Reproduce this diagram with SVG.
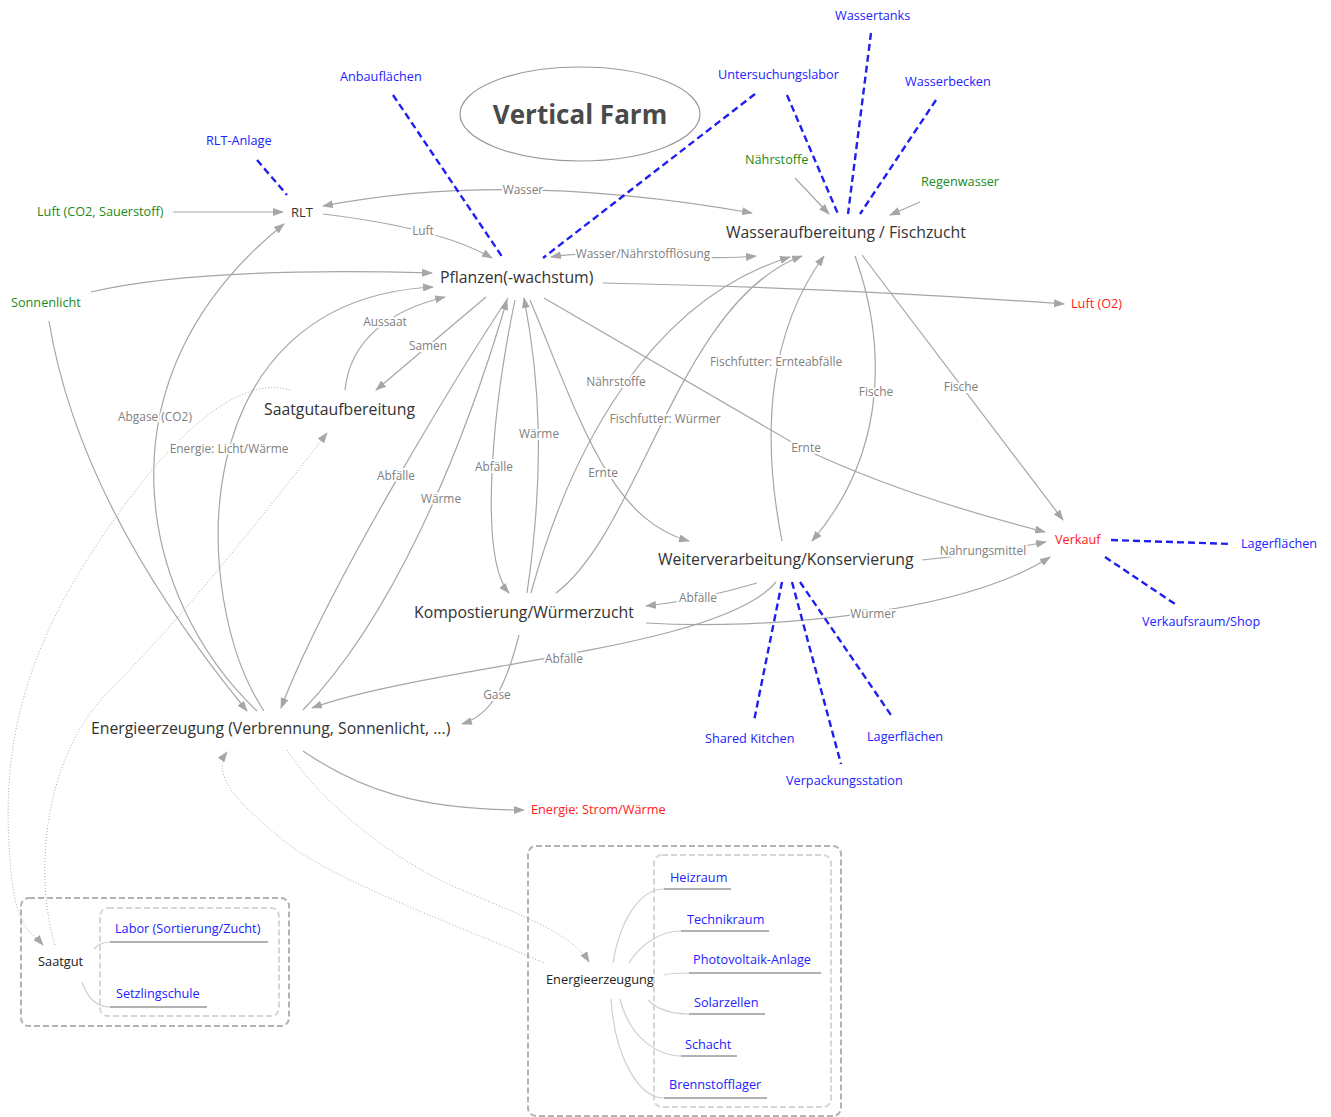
<svg xmlns="http://www.w3.org/2000/svg" width="1331" height="1117" viewBox="0 0 1331 1117">
<style>
text{font-family:"Open Sans","Noto Sans","DejaVu Sans",sans-serif}
.main{font-size:15.8px;fill:#333}
.title{font-size:26px;font-weight:bold;fill:#4a4a4a}
.blue{font-size:12.7px;fill:#2222ff}
.green{font-size:12.7px;fill:#1a8a1a}
.red{font-size:12.7px;fill:#ff1a1a}
.blk{font-size:12.8px;fill:#222}
.el{font-size:11.9px;fill:#808080;text-anchor:middle;stroke:#fff;stroke-width:4;paint-order:stroke;stroke-linejoin:round}
.e{fill:none;stroke:#a6a6a6;stroke-width:1.2}
.ea{fill:none;stroke:#a6a6a6;stroke-width:1.2;marker-end:url(#ah)}
.eb{fill:none;stroke:#a6a6a6;stroke-width:1.2;marker-end:url(#ah);marker-start:url(#ah)}
.dot{fill:none;stroke:#aaa;stroke-width:1;stroke-dasharray:1 2}
.dota{fill:none;stroke:#aaa;stroke-width:1;stroke-dasharray:1 2;marker-end:url(#ah)}
.bd{fill:none;stroke:#2020ee;stroke-width:2.4;stroke-dasharray:7 4}
.ul{stroke:#999;stroke-width:1.3}
.bc{fill:none;stroke:#cfcfcf;stroke-width:1.2}
</style>
<defs>
<marker id="ah" markerUnits="userSpaceOnUse" markerWidth="11" markerHeight="8" viewBox="0 0 11 8" refX="10" refY="4" orient="auto-start-reverse">
<path d="M0,0 L11,4 L0,8 z" fill="#a6a6a6"/>
</marker>
</defs>
<rect width="1331" height="1117" fill="#fff"/>

<g id="connectors">
<path class="ea" d="M173,212 L283,212"/>
<path class="ea" d="M323,214 Q440,228 492,258"/>
<path class="eb" d="M323,206 Q508,170 752,213"/>
<path class="eb" d="M551,257 C600,248 690,262 756,256"/>
<path class="ea" d="M91,292 C150,278 250,268 432,273"/>
<path class="ea" d="M603,283 Q840,288 1064,304"/>
<path class="ea" d="M49,321 C70,450 140,580 247,711"/>
<path class="ea" d="M257,711 C140,600 90,380 284,224"/>
<path class="ea" d="M264,711 C190,600 180,300 433,287"/>
<path class="ea" d="M345,390 C350,340 390,310 445,297"/>
<path class="ea" d="M486,297 L376,390"/>
<path class="ea" d="M508,298 C470,355 330,580 281,708"/>
<path class="ea" d="M303,710 C390,620 460,460 507,300"/>
<path class="ea" d="M776,582 C720,650 430,665 312,708"/>
<path class="ea" d="M515,300 C490,420 480,560 509,593"/>
<path class="ea" d="M527,593 C545,470 540,380 524,298"/>
<path class="ea" d="M531,593 C570,450 650,300 790,257"/>
<path class="ea" d="M556,593 C640,530 680,300 802,256"/>
<path class="ea" d="M782,541 C760,430 770,330 824,256"/>
<path class="ea" d="M855,256 C885,340 890,450 812,541"/>
<path class="ea" d="M862,255 L1063,520"/>
<path class="ea" d="M544,298 L800,447 Q900,495 1045,532"/>
<path class="ea" d="M530,300 C580,420 610,520 689,541"/>
<path class="ea" d="M757,583 Q700,600 646,606"/>
<path class="ea" d="M646,623 C760,630 960,615 1050,557"/>
<path class="ea" d="M922,560 Q990,553 1046,542"/>
<path class="ea" d="M519,635 C505,690 490,715 462,724"/>
<path class="ea" d="M795,178 L829,214"/>
<path class="ea" d="M920,202 L890,215"/>
<path class="ea" d="M303,751 C360,790 420,810 524,810"/>
<path class="dota" d="M290,390 C240,375 170,430 87,560 S5,790 10,860 S30,930 43,945"/>
<path class="dota" d="M55,945 C35,880 40,760 110,690 S260,520 327,433"/>
<path class="dota" d="M287,750 C320,800 380,850 444,882 C510,912 570,930 589,962"/>
<path class="dota" d="M544,963 C470,930 330,880 283,840 C240,805 210,775 227,752"/>
<path class="bd" d="M257,160 L287,195"/>
<path class="bd" d="M393,95 L503,258"/>
<path class="bd" d="M755,94 L543,258"/>
<path class="bd" d="M787,95 L838,214"/>
<path class="bd" d="M871,33 L848,214"/>
<path class="bd" d="M936,100 L860,214"/>
<path class="bd" d="M1111,540 L1232,544"/>
<path class="bd" d="M1105,557 L1175,604"/>
<path class="bd" d="M782,582 L754,721"/>
<path class="bd" d="M792,582 L841,764"/>
<path class="bd" d="M800,582 L893,718"/>
</g>

<g id="edge-labels">
<text class="el" x="523" y="194">Wasser</text>
<text class="el" x="423" y="235">Luft</text>
<text class="el" x="643" y="258">Wasser/Nährstofflösung</text>
<text class="el" x="385" y="326">Aussaat</text>
<text class="el" x="428" y="350">Samen</text>
<text class="el" x="155" y="421">Abgase (CO2)</text>
<text class="el" x="229" y="453">Energie: Licht/Wärme</text>
<text class="el" x="396" y="480">Abfälle</text>
<text class="el" x="441" y="503">Wärme</text>
<text class="el" x="494" y="471">Abfälle</text>
<text class="el" x="539" y="438">Wärme</text>
<text class="el" x="616" y="386">Nährstoffe</text>
<text class="el" x="665" y="423">Fischfutter: Würmer</text>
<text class="el" x="603" y="477">Ernte</text>
<text class="el" x="776" y="366">Fischfutter: Ernteabfälle</text>
<text class="el" x="876" y="396">Fische</text>
<text class="el" x="961" y="391">Fische</text>
<text class="el" x="806" y="452">Ernte</text>
<text class="el" x="983" y="555">Nahrungsmittel</text>
<text class="el" x="698" y="602">Abfälle</text>
<text class="el" x="873" y="618">Würmer</text>
<text class="el" x="564" y="663">Abfälle</text>
<text class="el" x="497" y="699">Gase</text>
</g>

<g id="title"><ellipse cx="580" cy="114" rx="120" ry="47" fill="none" stroke="#999" stroke-width="1.2"/><text class="title" x="580" y="124" text-anchor="middle">Vertical Farm</text></g>
<g id="rlt"><text class="main" x="291" y="217" style="font-size:13px">RLT</text></g>
<g id="wasser"><text class="main" x="726" y="238">Wasseraufbereitung / Fischzucht</text></g>
<g id="pflanzen"><text class="main" x="440" y="283">Pflanzen(-wachstum)</text></g>
<g id="saatgutaufbereitung"><text class="main" x="264" y="415">Saatgutaufbereitung</text></g>
<g id="weiterverarbeitung"><text class="main" x="658" y="565">Weiterverarbeitung/Konservierung</text></g>
<g id="kompostierung"><text class="main" x="414" y="618">Kompostierung/Würmerzucht</text></g>
<g id="energie"><text class="main" x="91" y="734">Energieerzeugung (Verbrennung, Sonnenlicht, ...)</text></g>
<g id="verkauf"><text class="red" x="1055" y="544">Verkauf</text></g>
<g id="luft-o2"><text class="red" x="1071" y="308">Luft (O2)</text></g>
<g id="energie-strom"><text class="red" x="531" y="814">Energie: Strom/Wärme</text></g>
<g id="luft-co2"><text class="green" x="37" y="216">Luft (CO2, Sauerstoff)</text></g>
<g id="sonnenlicht"><text class="green" x="11" y="307">Sonnenlicht</text></g>
<g id="naehrstoffe"><text class="green" x="745" y="164">Nährstoffe</text></g>
<g id="regenwasser"><text class="green" x="921" y="186">Regenwasser</text></g>
<g id="wassertanks"><text class="blue" x="835" y="20">Wassertanks</text></g>
<g id="anbauflaechen"><text class="blue" x="340" y="81">Anbauflächen</text></g>
<g id="untersuchungslabor"><text class="blue" x="718" y="79">Untersuchungslabor</text></g>
<g id="wasserbecken"><text class="blue" x="905" y="86">Wasserbecken</text></g>
<g id="rlt-anlage"><text class="blue" x="206" y="145">RLT-Anlage</text></g>
<g id="lagerflaechen1"><text class="blue" x="1241" y="548">Lagerflächen</text></g>
<g id="verkaufsraum"><text class="blue" x="1142" y="626">Verkaufsraum/Shop</text></g>
<g id="shared-kitchen"><text class="blue" x="705" y="743">Shared Kitchen</text></g>
<g id="lagerflaechen2"><text class="blue" x="867" y="741">Lagerflächen</text></g>
<g id="verpackung"><text class="blue" x="786" y="785">Verpackungsstation</text></g>

<g id="saatgut-box">
<rect x="21" y="898" width="268" height="128" rx="8" fill="none" stroke="#b3b3b3" stroke-width="2" stroke-dasharray="6 3"/>
<rect x="100" y="908" width="179" height="108" rx="8" fill="none" stroke="#d6d6d6" stroke-width="2" stroke-dasharray="6 3"/>
<text class="blk" x="38" y="966">Saatgut</text>
<path class="bc" d="M94,949 Q100,942 110,942"/>
<path class="bc" d="M82,982 C88,1000 98,1007 110,1007"/>
<line class="ul" x1="110" y1="942" x2="268" y2="942"/>
<line class="ul" x1="110" y1="1007" x2="207" y2="1007"/>
<text class="blue" x="115" y="933">Labor (Sortierung/Zucht)</text>
<text class="blue" x="116" y="998">Setzlingschule</text>
</g>

<g id="energie-box">
<rect x="528" y="846" width="313" height="270" rx="8" fill="none" stroke="#b3b3b3" stroke-width="2" stroke-dasharray="6 3"/>
<rect x="654" y="855" width="177" height="252" rx="8" fill="none" stroke="#d6d6d6" stroke-width="2" stroke-dasharray="6 3"/>
<text class="blk" x="546" y="984">Energieerzeugung</text>
<path class="bc" d="M613,963 C620,920 640,889 664,889"/>
<path class="bc" d="M629,963 C640,945 660,931 681,931"/>
<path class="bc" d="M664,975 Q670,973 689,973"/>
<path class="bc" d="M648,1000 C660,1012 675,1014 689,1014"/>
<path class="bc" d="M620,999 C630,1040 660,1056 681,1056"/>
<path class="bc" d="M611,999 C615,1060 640,1098 664,1098"/>
<line class="ul" x1="664" y1="889" x2="731" y2="889"/>
<line class="ul" x1="681" y1="931" x2="769" y2="931"/>
<line class="ul" x1="689" y1="973" x2="821" y2="973"/>
<line class="ul" x1="689" y1="1014" x2="765" y2="1014"/>
<line class="ul" x1="681" y1="1056" x2="737" y2="1056"/>
<line class="ul" x1="664" y1="1098" x2="767" y2="1098"/>
<text class="blue" x="670" y="882">Heizraum</text>
<text class="blue" x="687" y="924">Technikraum</text>
<text class="blue" x="693" y="964">Photovoltaik-Anlage</text>
<text class="blue" x="694" y="1007">Solarzellen</text>
<text class="blue" x="685" y="1049">Schacht</text>
<text class="blue" x="669" y="1089">Brennstofflager</text>
</g>
</svg>
